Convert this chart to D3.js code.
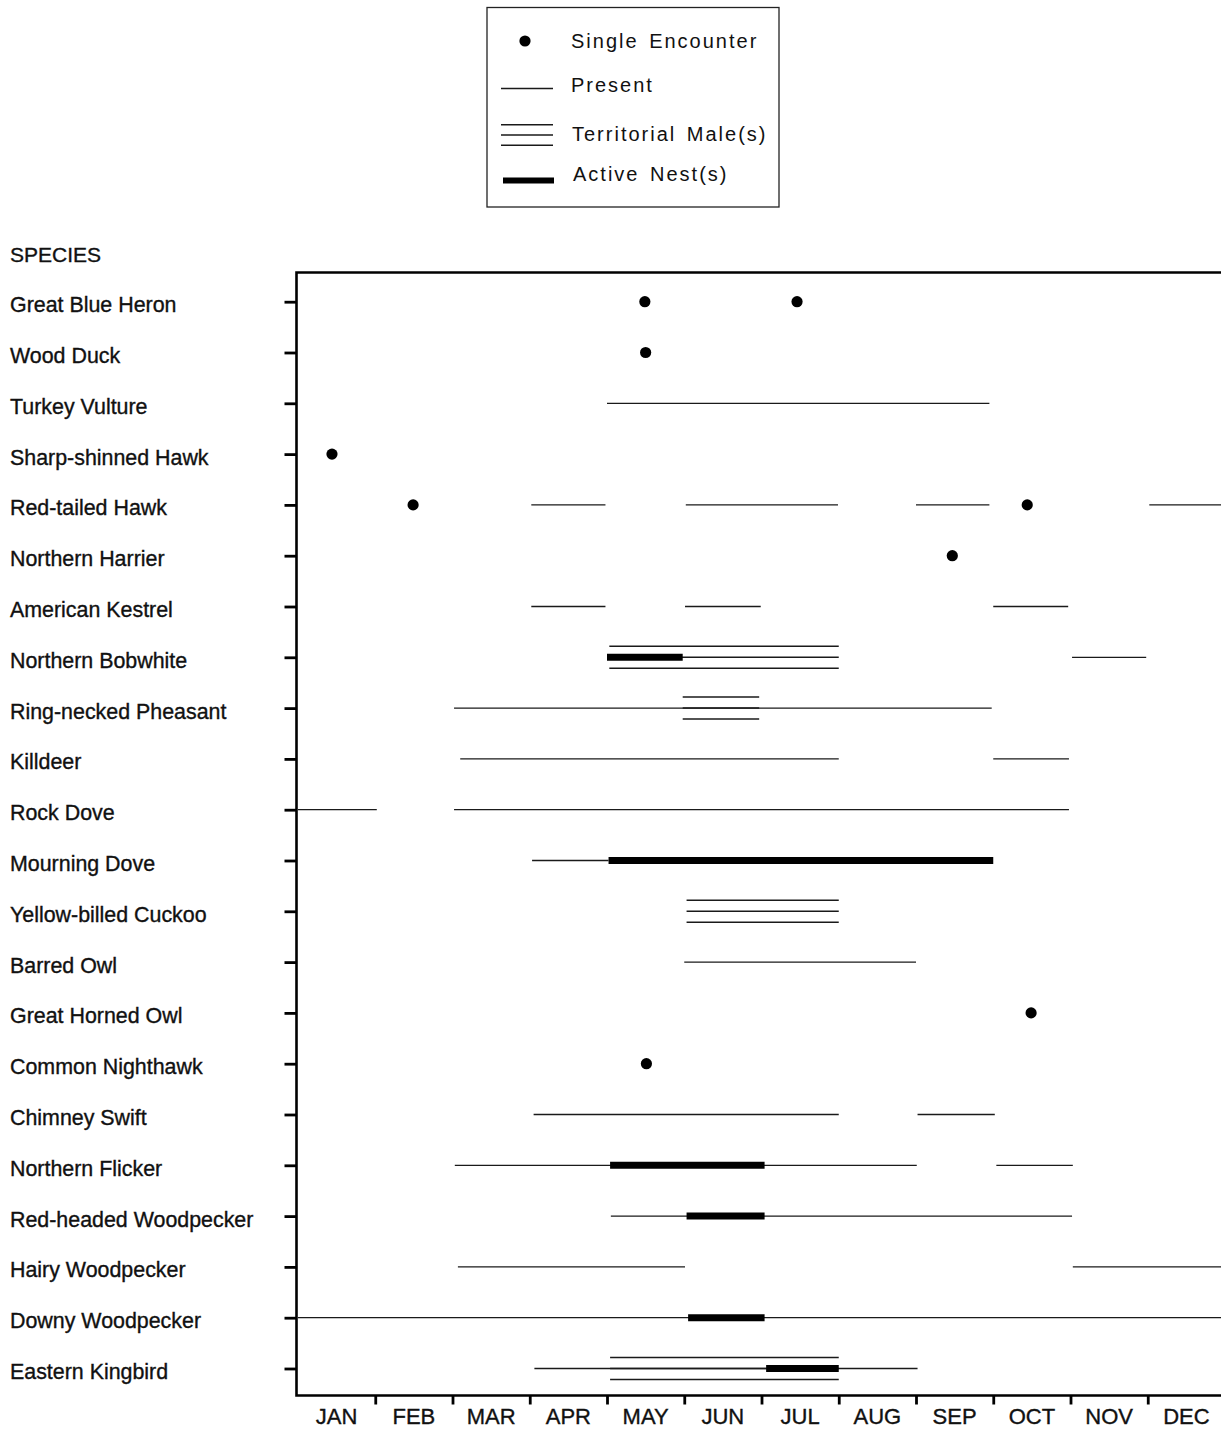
<!DOCTYPE html>
<html>
<head>
<meta charset="utf-8">
<script src="https://cdn.jsdelivr.net/npm/d3@7"></script>
<style>
  body { margin: 0; background: #fff; }
  svg { display: block; }
  text { font-family: "Liberation Sans", Arial, Helvetica, sans-serif; fill: #111; }
  .heavy { stroke: #111; stroke-width: 0.35px; }
</style>
</head>
<body>
<svg id="chart" width="1221" height="1432"></svg>
<script>
// Month labels along the bottom axis
const months = ["JAN", "FEB", "MAR", "APR", "MAY", "JUN", "JUL", "AUG", "SEP", "OCT", "NOV", "DEC"];

// Species, top to bottom
const species = [
  "Great Blue Heron", "Wood Duck", "Turkey Vulture", "Sharp-shinned Hawk",
  "Red-tailed Hawk", "Northern Harrier", "American Kestrel", "Northern Bobwhite",
  "Ring-necked Pheasant", "Killdeer", "Rock Dove", "Mourning Dove",
  "Yellow-billed Cuckoo", "Barred Owl", "Great Horned Owl", "Common Nighthawk",
  "Chimney Swift", "Northern Flicker", "Red-headed Woodpecker", "Hairy Woodpecker",
  "Downy Woodpecker", "Eastern Kingbird"
];

// Times are in months from the start of the year (0 = Jan 1, 12 = Dec 31)
const singleEncounters = [
  ["Great Blue Heron", 4.49], ["Great Blue Heron", 6.46],
  ["Wood Duck", 4.5],
  ["Sharp-shinned Hawk", 0.44],
  ["Red-tailed Hawk", 1.49], ["Red-tailed Hawk", 9.44],
  ["Northern Harrier", 8.47],
  ["Great Horned Owl", 9.49],
  ["Common Nighthawk", 4.51]
];

const presentSpans = [
  ["Turkey Vulture", 4.0, 8.95],
  ["Red-tailed Hawk", 3.02, 3.98], ["Red-tailed Hawk", 5.02, 6.99],
  ["Red-tailed Hawk", 8.0, 8.95], ["Red-tailed Hawk", 11.02, 12],
  ["American Kestrel", 3.02, 3.98], ["American Kestrel", 5.01, 5.99], ["American Kestrel", 9.0, 9.97],
  ["Northern Bobwhite", 10.02, 10.98],
  ["Ring-necked Pheasant", 2.02, 8.98],
  ["Killdeer", 2.1, 7.0], ["Killdeer", 9.0, 9.98],
  ["Rock Dove", 0, 1.02], ["Rock Dove", 2.02, 9.98],
  ["Mourning Dove", 3.03, 4.02],
  ["Barred Owl", 5.0, 8.0],
  ["Chimney Swift", 3.05, 7.0], ["Chimney Swift", 8.02, 9.02],
  ["Northern Flicker", 2.03, 8.01], ["Northern Flicker", 9.04, 10.03],
  ["Red-headed Woodpecker", 4.05, 10.02],
  ["Hairy Woodpecker", 2.07, 5.01], ["Hairy Woodpecker", 10.03, 12],
  ["Downy Woodpecker", 0, 12],
  ["Eastern Kingbird", 3.06, 8.02]
];

const territorialSpans = [
  ["Northern Bobwhite", 4.03, 7.0],
  ["Ring-necked Pheasant", 4.98, 5.97],
  ["Yellow-billed Cuckoo", 5.03, 7.0],
  ["Eastern Kingbird", 4.04, 7.0]
];

const nestSpans = [
  ["Northern Bobwhite", 4.0, 4.98],
  ["Mourning Dove", 4.02, 9.0],
  ["Northern Flicker", 4.04, 6.04],
  ["Red-headed Woodpecker", 5.03, 6.04],
  ["Downy Woodpecker", 5.05, 6.04],
  ["Eastern Kingbird", 6.06, 7.0]
];

const legendLabels = ["Single Encounter", "Present", "Territorial Male(s)", "Active Nest(s)"];

// ---- layout ----
const svg = d3.select("#chart");
const frame = { left: 296.5, top: 272.5, bottom: 1395.5 };
const x = d3.scaleLinear().domain([0, 12]).range([298, 1225]);
const y = d3.scalePoint().domain(species).range([301.7, 1368.5]);
const monthBand = d3.scaleBand().domain(months).range([x(0), x(12)]);
const lineInk = "#1a1a1a";
const terrOffsets = [-11, 0, 11];

// Plot frame (left, top, bottom)
svg.append("path")
  .attr("d", `M${x(12)},${frame.top} H${frame.left} V${frame.bottom} H${x(12)}`)
  .attr("fill", "none").attr("stroke", "#000").attr("stroke-width", 2.6);

// Species ticks on the left axis
const yAxis = svg.append("g")
  .attr("transform", `translate(${frame.left},0)`)
  .call(d3.axisLeft(y).tickSize(12).tickFormat(""));
yAxis.select(".domain").remove();
yAxis.selectAll(".tick line").attr("stroke", "#000").attr("stroke-width", 2.8);

// Month boundary ticks on the bottom axis
const xTicks = svg.append("g")
  .attr("transform", `translate(0,${frame.bottom})`)
  .call(d3.axisBottom(x).tickValues(d3.range(1, 12)).tickSize(9).tickFormat(""));
xTicks.select(".domain").remove();
xTicks.selectAll(".tick line").attr("stroke", "#000").attr("stroke-width", 2.8);

// Month names centred in each month
const xLabels = svg.append("g")
  .attr("transform", `translate(0,${frame.bottom})`)
  .call(d3.axisBottom(monthBand).tickSize(0).tickPadding(13));
xLabels.select(".domain").remove();
xLabels.selectAll(".tick text")
  .attr("class", "heavy")
  .attr("font-size", 22).attr("fill", "#111")
  .attr("font-family", "\"Liberation Sans\", Arial, sans-serif");

// Species labels
svg.append("text").attr("class", "heavy").attr("x", 10).attr("y", 261.5).attr("font-size", 21).text("SPECIES");
svg.append("g").selectAll("text").data(species).join("text")
  .attr("class", "heavy")
  .attr("x", 10).attr("y", d => y(d) + 10.5)
  .attr("font-size", 21.4)
  .text(d => d);

// ---- marks ----
const marks = svg.append("g");

// Present: single thin line
marks.append("g").selectAll("line").data(presentSpans).join("line")
  .attr("x1", d => x(d[1])).attr("x2", d => x(d[2]))
  .attr("y1", d => y(d[0])).attr("y2", d => y(d[0]))
  .attr("stroke", lineInk).attr("stroke-width", 1.3);

// Territorial male(s): three parallel lines
marks.append("g").selectAll("g").data(territorialSpans).join("g")
  .each(function (d) {
    d3.select(this).selectAll("line").data(terrOffsets).join("line")
      .attr("x1", x(d[1])).attr("x2", x(d[2]))
      .attr("y1", o => y(d[0]) + o).attr("y2", o => y(d[0]) + o)
      .attr("stroke", lineInk).attr("stroke-width", 1.5);
  });

// Active nest(s): heavy bar
marks.append("g").selectAll("line").data(nestSpans).join("line")
  .attr("x1", d => x(d[1])).attr("x2", d => x(d[2]))
  .attr("y1", d => y(d[0])).attr("y2", d => y(d[0]))
  .attr("stroke", "#000").attr("stroke-width", 7);

// Single encounter: dot
marks.append("g").selectAll("circle").data(singleEncounters).join("circle")
  .attr("cx", d => x(d[1])).attr("cy", d => y(d[0]))
  .attr("r", 5.6).attr("fill", "#000");

// ---- legend ----
const legend = svg.append("g");
legend.append("rect")
  .attr("x", 487).attr("y", 7.5).attr("width", 292).attr("height", 199.5)
  .attr("fill", "none").attr("stroke", "#222").attr("stroke-width", 1.3);

const legendRows = [
  { label: legendLabels[0], ty: 48, tx: 571 },
  { label: legendLabels[1], ty: 92, tx: 571 },
  { label: legendLabels[2], ty: 141, tx: 572 },
  { label: legendLabels[3], ty: 181, tx: 573 }
];
legend.selectAll("text").data(legendRows).join("text")
  .attr("x", d => d.tx).attr("y", d => d.ty)
  .attr("font-size", 20).attr("letter-spacing", 2).attr("word-spacing", 3)
  .text(d => d.label);

legend.append("circle").attr("cx", 525).attr("cy", 41).attr("r", 5.6).attr("fill", "#000");
legend.append("line").attr("x1", 501).attr("x2", 553).attr("y1", 88.5).attr("y2", 88.5)
  .attr("stroke", lineInk).attr("stroke-width", 1.3);
legend.selectAll(".terr").data(terrOffsets).join("line").attr("class", "terr")
  .attr("x1", 501).attr("x2", 553)
  .attr("y1", o => 135 + o * 0.93).attr("y2", o => 135 + o * 0.93)
  .attr("stroke", lineInk).attr("stroke-width", 1.5);
legend.append("line").attr("x1", 503).attr("x2", 554).attr("y1", 180.5).attr("y2", 180.5)
  .attr("stroke", "#000").attr("stroke-width", 6);
</script>
</body>
</html>
